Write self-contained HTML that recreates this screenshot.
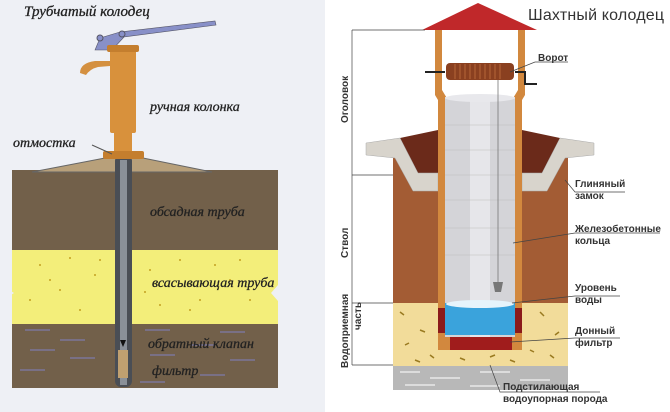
<!DOCTYPE html>
<html><head><meta charset="utf-8"><style>
html,body{margin:0;padding:0;background:#fff;width:670px;height:412px;overflow:hidden}
svg{display:block}
.l{font-family:"Liberation Serif","Noto Serif CJK SC",serif;font-style:italic;font-size:14px;fill:#222;stroke:#222;stroke-width:0.3}
.r{font-family:"Liberation Sans","Noto Sans CJK SC",sans-serif;font-weight:bold;font-size:10px;fill:#333}
</style></head><body>
<svg width="670" height="412" viewBox="0 0 670 412">
<rect x="0" y="0" width="325" height="412" fill="#eef0f5"/>
<rect x="12" y="170" width="266" height="80" fill="#72604a"/>
<rect x="12" y="250" width="266" height="74" fill="#f3ee7a"/>
<rect x="12" y="324" width="266" height="64" fill="#72604a"/>
<path d="M6,288 l8,5 l-8,5z M278,285 l-7,8 l7,8z" fill="#eef0f5"/>
<g fill="#c2a020">
<circle cx="40" cy="265" r="1"/><circle cx="70" cy="258" r="1"/><circle cx="60" cy="290" r="1"/><circle cx="95" cy="275" r="1"/><circle cx="30" cy="300" r="1"/><circle cx="80" cy="310" r="1"/><circle cx="100" cy="260" r="1"/><circle cx="50" cy="280" r="1"/><circle cx="150" cy="270" r="1"/><circle cx="180" cy="260" r="1"/><circle cx="200" cy="300" r="1"/><circle cx="230" cy="280" r="1"/><circle cx="250" cy="300" r="1"/><circle cx="160" cy="305" r="1"/><circle cx="215" cy="265" r="1"/><circle cx="190" cy="310" r="1"/><circle cx="240" cy="260" r="1"/><circle cx="145" cy="292" r="1"/>
</g>
<g stroke="#8080c0" stroke-width="1">
<line x1="25" y1="330" x2="50" y2="330"/><line x1="60" y1="340" x2="85" y2="340"/><line x1="30" y1="350" x2="55" y2="350"/><line x1="70" y1="358" x2="95" y2="358"/><line x1="20" y1="370" x2="45" y2="370"/><line x1="145" y1="330" x2="170" y2="330"/><line x1="220" y1="332" x2="245" y2="332"/><line x1="150" y1="355" x2="175" y2="355"/><line x1="230" y1="360" x2="255" y2="360"/><line x1="190" y1="345" x2="215" y2="345"/><line x1="140" y1="382" x2="165" y2="382"/><line x1="200" y1="375" x2="225" y2="375"/>
</g>
<path d="M32,172 L105,158 L143,158 L212,172Z" fill="#b8a07a" stroke="#666" stroke-width="1"/>
<rect x="115" y="155" width="17" height="232" rx="6" fill="#4a4e55"/>
<rect x="120" y="160" width="7" height="225" fill="#8a9098"/>
<rect x="118" y="350" width="10" height="28" fill="#c0a070"/>
<path d="M120,340 l6,0 l-3,7z" fill="#111"/>
<path d="M80,73 q0,-10 15,-12 l15,0 l0,5 l-12,1 q-8,2 -12,8z" fill="#d49040"/>
<path d="M95,50 l5,-12 l20,-6 l95,-11 l1,4 l-92,12 l-12,13 l-10,0z" fill="#8890c8" stroke="#556" stroke-width="0.6"/>
<circle cx="100" cy="38" r="3" fill="#8890c8" stroke="#556"/><circle cx="122" cy="34" r="3" fill="#8890c8" stroke="#556"/>
<rect x="110" y="45" width="26" height="88" rx="2" fill="#d8913c"/>
<rect x="107" y="45" width="32" height="7" rx="2" fill="#c47e2e"/>
<rect x="114" y="133" width="18" height="20" fill="#d8913c"/>
<rect x="103" y="151" width="41" height="8" rx="2" fill="#c47e2e"/>
<path d="M92,145 l20,9" stroke="#555"/>
<text class="l" x="24" y="16" style="font-size:15px">Трубчатый колодец</text>
<text class="l" x="150" y="111">ручная колонка</text>
<text class="l" x="13" y="147">отмостка</text>
<text class="l" x="150" y="216">обсадная труба</text>
<text class="l" x="152" y="287">всасывающая труба</text>
<text class="l" x="148" y="348">обратный клапан</text>
<text class="l" x="152" y="375">фильтр</text>

<text x="528" y="20" font-family="Liberation Sans,sans-serif" font-size="16" fill="#333" textLength="136">Шахтный колодец</text>
<rect x="393" y="150" width="175" height="155" fill="#a35c34"/>
<rect x="393" y="303" width="175" height="63" fill="#f2dc9a"/>
<rect x="393" y="366" width="175" height="24" fill="#b8b8b8"/>
<g stroke="#e8e8e8" stroke-width="1.5"><line x1="400" y1="372" x2="420" y2="372"/><line x1="430" y1="378" x2="460" y2="378"/><line x1="480" y1="372" x2="510" y2="372"/><line x1="520" y1="380" x2="550" y2="380"/><line x1="405" y1="385" x2="435" y2="385"/><line x1="470" y1="386" x2="500" y2="386"/></g>
<g stroke="#9a7a20" stroke-width="1.5"><line x1="400" y1="312" x2="404" y2="315"/><line x1="420" y1="330" x2="425" y2="332"/><line x1="405" y1="345" x2="409" y2="343"/><line x1="430" y1="355" x2="434" y2="358"/><line x1="540" y1="312" x2="544" y2="316"/><line x1="555" y1="335" x2="559" y2="332"/><line x1="530" y1="350" x2="534" y2="352"/><line x1="460" y1="358" x2="465" y2="360"/><line x1="490" y1="357" x2="495" y2="355"/><line x1="510" y1="360" x2="515" y2="362"/><line x1="550" y1="355" x2="554" y2="358"/><line x1="415" y1="360" x2="420" y2="362"/></g>
<path d="M400,138 L438,130 L438,173 L418,173Z" fill="#6b2a1a"/>
<path d="M560,138 L522,130 L522,173 L542,173Z" fill="#6b2a1a"/>
<path d="M366,143 L400,138 L418,173 L438,173 L438,191 L413,191 L395,158 L366,155Z" fill="#d8d4cc" stroke="#aaa" stroke-width="0.5"/>
<path d="M594,143 L560,138 L542,173 L522,173 L522,191 L547,191 L565,158 L594,155Z" fill="#d8d4cc" stroke="#aaa" stroke-width="0.5"/>
<path d="M422,30 L478,3 L537,30Z" fill="#c0282a"/>
<path d="M435,30 h7 v60 l6,10 h-10 l-3,-5z" fill="#d2883e"/>
<path d="M525,30 h-7 v60 l-6,10 h10 l3,-5z" fill="#d2883e"/>
<rect x="438" y="97" width="84" height="253" fill="#d2883e"/>
<rect x="445" y="97" width="70" height="240" fill="#d4d4d8"/>
<rect x="470" y="97" width="20" height="240" fill="#e6e6ea"/>
<ellipse cx="480" cy="98" rx="35" ry="4" fill="#e8e8ec"/>
<g stroke="#bbb" stroke-width="0.6"><line x1="445" y1="125" x2="515" y2="125"/><line x1="445" y1="150" x2="515" y2="150"/><line x1="445" y1="175" x2="515" y2="175"/><line x1="445" y1="200" x2="515" y2="200"/><line x1="445" y1="228" x2="515" y2="228"/><line x1="445" y1="255" x2="515" y2="255"/></g>
<rect x="438" y="308" width="7" height="25" fill="#8b1a1a"/><rect x="515" y="308" width="7" height="25" fill="#8b1a1a"/>
<rect x="445" y="303" width="70" height="32" fill="#3aa3dc"/>
<ellipse cx="480" cy="304" rx="34" ry="4" fill="#e6f4fb"/>
<rect x="450" y="337" width="62" height="13" fill="#a01c1c"/>
<path d="M425,72 h20 M515,72 h10 v12 h12" stroke="#222" stroke-width="2" fill="none"/>
<rect x="446" y="63" width="68" height="17" rx="4" fill="#8a4020"/>
<g stroke="#c07040" stroke-width="0.8"><line x1="455" y1="64" x2="455" y2="79"/><line x1="460" y1="64" x2="460" y2="79"/><line x1="465" y1="64" x2="465" y2="79"/><line x1="470" y1="64" x2="470" y2="79"/><line x1="475" y1="64" x2="475" y2="79"/><line x1="480" y1="64" x2="480" y2="79"/><line x1="485" y1="64" x2="485" y2="79"/><line x1="490" y1="64" x2="490" y2="79"/><line x1="495" y1="64" x2="495" y2="79"/><line x1="500" y1="64" x2="500" y2="79"/></g>
<line x1="498" y1="80" x2="498" y2="282" stroke="#777" stroke-width="0.8"/>
<path d="M493,282 h10 l-2,10 h-6z" fill="#777"/>
<g stroke="#444" stroke-width="0.7" fill="none">
<path d="M510,72 L535,62 H568"/>
<path d="M565,180 L575,192 H625"/>
<path d="M513,243 L575,233 H660"/>
<path d="M512,303 L575,296 H620"/>
<path d="M510,342 L575,338 H620"/>
<path d="M490,365 L500,392 H600"/>
<path d="M352,30 V365 M352,30 H425 M352,175 H393 M352,303 H393 M352,365 H393"/>
</g>
<text class="r" x="538" y="61">Ворот</text>
<text class="r" x="575" y="187">Глиняный</text><text class="r" x="575" y="199">замок</text>
<text class="r" x="575" y="232">Железобетонные</text><text class="r" x="575" y="244">кольца</text>
<text class="r" x="575" y="291">Уровень</text><text class="r" x="575" y="303">воды</text>
<text class="r" x="575" y="334">Донный</text><text class="r" x="575" y="346">фильтр</text>
<text class="r" x="503" y="390">Подстилающая</text><text class="r" x="503" y="402">водоупорная порода</text>
<text class="r" transform="translate(348,123) rotate(-90)">Оголовок</text>
<text class="r" transform="translate(348,258) rotate(-90)">Ствол</text>
<text class="r" transform="translate(348,368) rotate(-90)">Водоприемная</text>
<text class="r" transform="translate(361,330) rotate(-90)">часть</text>
</svg>
</body></html>
